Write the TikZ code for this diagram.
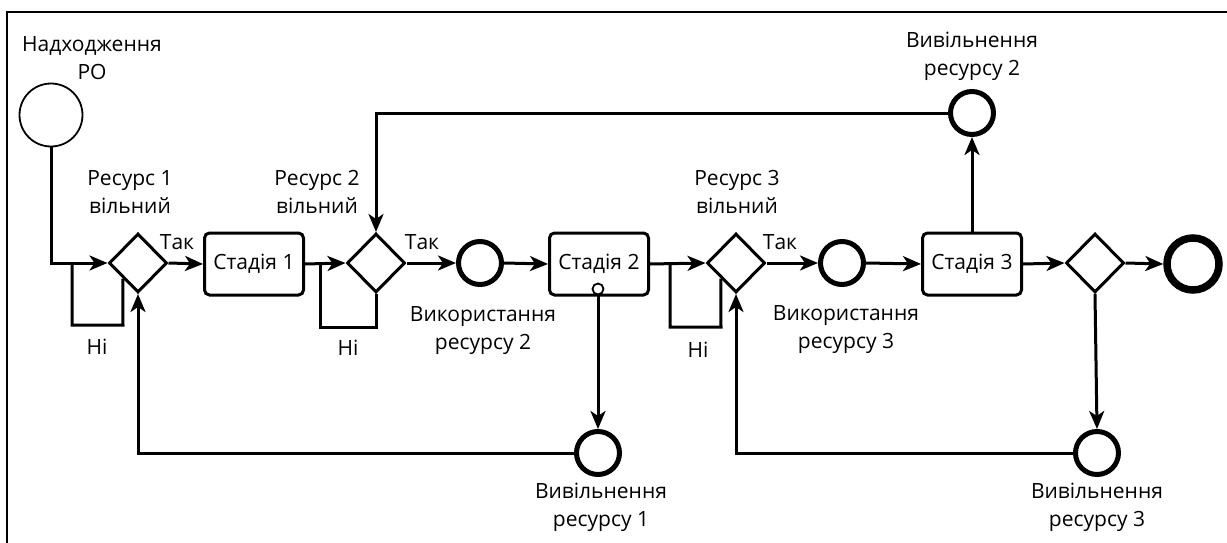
\documentclass[tikz,border=0pt]{standalone}
\usepackage{fontspec}
\setmainfont{Open Sans}
\usetikzlibrary{shapes.geometric,arrows.meta,calc}
\begin{document}
\begin{tikzpicture}[x=1pt,y=-1pt,
  conn/.style={line width=3pt},
  arr/.style={conn,-{Stealth[length=18pt,width=15pt,inset=5pt]}},
  gate/.style={diamond,draw,line width=3pt,minimum width=58pt,minimum height=59pt,inner sep=0pt,aspect=1},
  stage/.style={draw,line width=3pt,rounded corners=5pt,minimum width=99pt,minimum height=62pt,inner sep=0pt,font=\fontsize{21}{25}\selectfont},
  ev/.style={circle,draw,line width=5pt,minimum size=43pt,inner sep=0pt},
  lbl/.style={align=center,font=\fontsize{21}{28}\selectfont,inner sep=0pt},
]
\useasboundingbox (0,0) rectangle (1227,543);
\fill[white] (0,0) rectangle (1227,543);
\draw[line width=2.2pt] (7,543) -- (7,12) -- (1227,12);

% nodes
\node[circle,draw,line width=1.8pt,minimum size=63pt,inner sep=0pt] (start) at (51,115) {};
\node[gate] (d1) at (138,263) {};
\node[stage] (s1) at (254,264) {Стадія 1};
\node[gate] (d2) at (376,263) {};
\node[ev] (u2) at (480,263) {};
\node[stage] (s2) at (599,264) {Стадія 2};
\node[circle,draw,line width=1.8pt,minimum size=11pt,inner sep=0pt,fill=white] (m) at (598,289) {};
\node[gate] (d3) at (736,263) {};
\node[ev] (u3) at (842,263) {};
\node[stage] (s3) at (972,264) {Стадія 3};
\node[gate] (d4) at (1095,263) {};
\node[circle,draw,line width=7.5pt,minimum size=52pt,inner sep=0pt] (e) at (1193,264) {};
\node[ev] (r2) at (972,113) {};
\node[ev] (r1) at (598,453) {};
\node[ev] (r3) at (1097,453) {};

% loop corners
\coordinate (l1a) at (72,263);
\coordinate (l1b) at (72,325);
\coordinate (l1c) at (123,325);
\coordinate (l2a) at (320,263);
\coordinate (l2b) at (320,327);
\coordinate (l3a) at (670,263);
\coordinate (l3b) at (670,327);
\coordinate (l3c) at (721,327);

% connectors
\draw[arr] (start.south) |- (d1.west);
\draw[conn] (l1a) -- (l1b) -- (l1c) -- ($(d1.west)!0.5!(d1.south)$);
\draw[arr] (d1.east) -- (s1.west);
\draw[arr] (s1.east) -- (d2.west);
\draw[conn] (l2a) -- (l2b) -| (d2.south);
\draw[arr] (d2.east) -- (u2.west);
\draw[arr] (u2.east) -- (s2.west);
\draw[arr] (s2.east) -- (d3.west);
\draw[conn] (l3a) -- (l3b) -- (l3c) -- ($(d3.west)!0.5!(d3.south)$);
\draw[arr] (d3.east) -- (u3.west);
\draw[arr] (u3.east) -- (s3.west);
\draw[arr] (s3.east) -- (d4.west);
\draw[arr] (d4.east) -- (e.west);
\draw[arr] (s3.north) -- (r2.south);
\draw[arr] (r2.west) -| (d2.north);
\draw[arr] (d4.south) -- (r3.north);
\draw[arr] (r3.west) -| (d3.south);
\draw[arr] (m.south) -- (r1.north);
\draw[arr] (r1.west) -| (d1.south);

% labels
\node[lbl] (t0) at (92,58) {Надходження\\РО};
\node[lbl] (t1) at (130,192) {Ресурс 1\\вільний};
\node[lbl] (t2) at (317,192) {Ресурс 2\\вільний};
\node[lbl] (t3) at (737,192) {Ресурс 3\\вільний};
\node[lbl] (y1) at (177,242) {Так};
\node[lbl] (y2) at (422,242) {Так};
\node[lbl] (y3) at (780,242) {Так};
\node[lbl] (n1) at (97,347) {Ні};
\node[lbl] (n2) at (348,348) {Ні};
\node[lbl] (n3) at (698,350) {Ні};
\node[lbl] (tu2) at (483,331) {Використання\\ресурсу 2};
\node[lbl] (tu3) at (846,330) {Використання\\ресурсу 3};
\node[lbl] (tr2) at (972,56) {Вивільнення\\ресурсу 2};
\node[lbl] (tr1) at (601,507) {Вивільнення\\ресурсу 1};
\node[lbl] (tr3) at (1097,507) {Вивільнення\\ресурсу 3};
\end{tikzpicture}
\end{document}
